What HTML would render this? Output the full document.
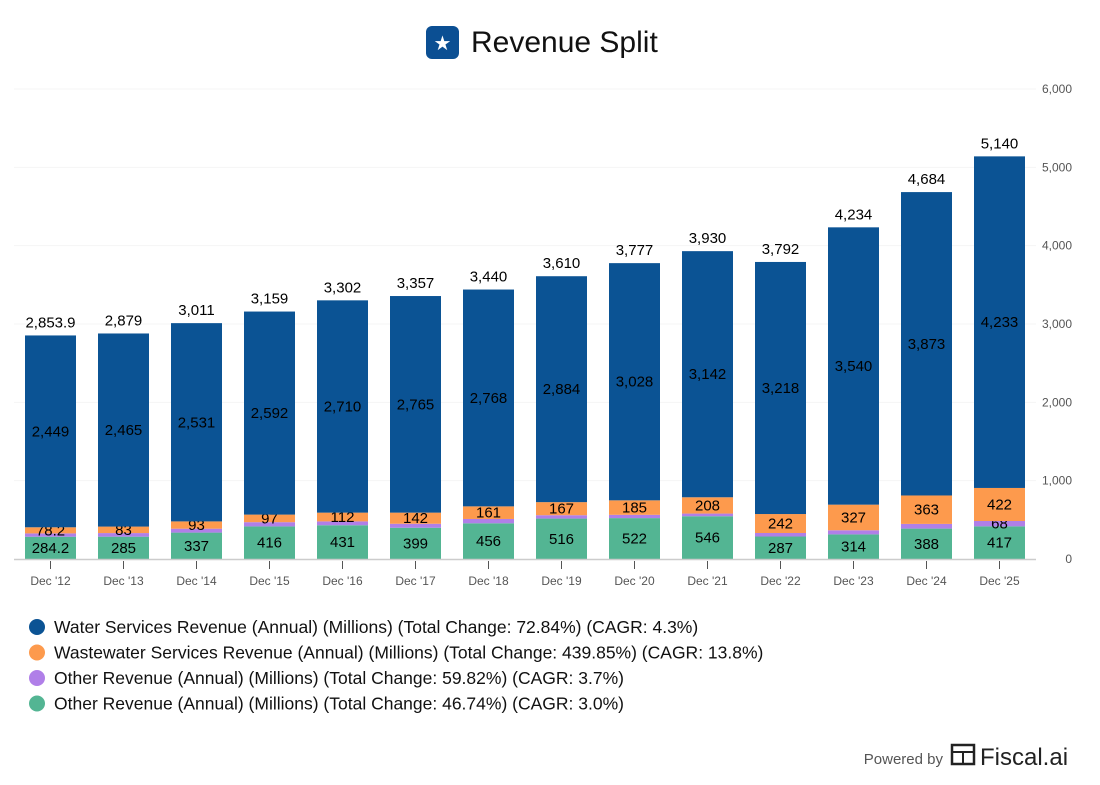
<!DOCTYPE html>
<html><head><meta charset="utf-8"><style>
body{margin:0;background:#fff;font-family:"Liberation Sans",Arial,sans-serif;}
#wrap{position:relative;width:1100px;height:780px;}
</style></head><body>
<div id="wrap">
<svg id="chart" width="1100" height="780" xmlns="http://www.w3.org/2000/svg">
  <g>
    <rect x="426" y="26" width="33" height="33" rx="6" fill="#0b4f93"/>
    <text x="442.5" y="50" font-size="20" fill="#fff" text-anchor="middle">★</text>
    <text x="471" y="52" font-size="30" fill="#111">Revenue Split</text>
  </g>
  <g id="grid"></g>
  <g id="bars"></g>
  <g id="axis"></g>
  <g id="legend"></g>
  <g>
    <text x="943" y="764" font-size="15" fill="#555" text-anchor="end">Powered by</text>
    <rect x="952" y="745" width="22" height="19" fill="none" stroke="#222" stroke-width="2.5"/>
    <line x1="952" y1="752" x2="974" y2="752" stroke="#222" stroke-width="2"/>
    <line x1="963" y1="752" x2="963" y2="764" stroke="#222" stroke-width="2"/>
    <text x="980" y="765" font-size="24" fill="#222">Fiscal.ai</text>
  </g>
</svg>
</div>
<script>
const categories=["Dec '12","Dec '13","Dec '14","Dec '15","Dec '16","Dec '17","Dec '18","Dec '19","Dec '20","Dec '21","Dec '22","Dec '23","Dec '24","Dec '25"];
const otherB=[284.2,285,337,416,431,399,456,516,522,546,287,314,388,417];
const otherA=[42.5,46,50,54,49,51,55,43,42,34,45,53,60,68];
const wastewater=[78.2,83,93,97,112,142,161,167,185,208,242,327,363,422];
const water=[2449,2465,2531,2592,2710,2765,2768,2884,3028,3142,3218,3540,3873,4233];
const totals=["2,853.9","2,879","3,011","3,159","3,302","3,357","3,440","3,610","3,777","3,930","3,792","4,234","4,684","5,140"];
const otherBLabels=["284.2","285","337","416","431","399","456","516","522","546","287","314","388","417"];
const wastewaterLabels=["78.2","83","93","97","112","142","161","167","185","208","242","327","363","422"];
const waterLabels=["2,449","2,465","2,531","2,592","2,710","2,765","2,768","2,884","3,028","3,142","3,218","3,540","3,873","4,233"];
const otherALabels=["","","","","","","","","","","","","","68"];
const yTicks=[0,1000,2000,3000,4000,5000,6000];
const yTickLabels=["0","1,000","2,000","3,000","4,000","5,000","6,000"];
const legendLabels=["Water Services Revenue (Annual) (Millions) (Total Change: 72.84%) (CAGR: 4.3%)","Wastewater Services Revenue (Annual) (Millions) (Total Change: 439.85%) (CAGR: 13.8%)","Other Revenue (Annual) (Millions) (Total Change: 59.82%) (CAGR: 3.7%)","Other Revenue (Annual) (Millions) (Total Change: 46.74%) (CAGR: 3.0%)"];

const NS="http://www.w3.org/2000/svg";
const X0=14,X1=1036,Y0=559,YTOP=89,MAX=6000;
const step=(X1-X0)/categories.length, bw=51;
const y=v=>Y0-(v/MAX)*(Y0-YTOP);
const xc=i=>X0+step*(i+0.5);
function mk(tag,attrs,parent,txt){const e=document.createElementNS(NS,tag);for(const k in attrs)e.setAttribute(k,attrs[k]);if(txt!==undefined)e.textContent=txt;parent.appendChild(e);return e;}
const grid=document.getElementById('grid'),bars=document.getElementById('bars'),axis=document.getElementById('axis'),legend=document.getElementById('legend');
yTicks.forEach((t,i)=>{
  if(t>0){const l=mk('line',{x1:X0,x2:X1,y1:y(t),y2:y(t),stroke:'#f5f5f5','stroke-width':1},grid);
  
  }
  const tx=mk('text',{x:1072,y:y(t)+4,'font-size':12,fill:'#555','text-anchor':'end'},axis,yTickLabels[i]);
  
  
});
const al=mk('line',{x1:X0,x2:X1,y1:Y0+0.5,y2:Y0+0.5,stroke:'#ccc','stroke-width':1.5},axis);


const series=[{d:otherB,c:'#53b593',l:otherBLabels,n:'other-revenue-b'},{d:otherA,c:'#b07fe8',l:otherALabels,n:'other-revenue-a'},{d:wastewater,c:'#fd9a4d',l:wastewaterLabels,n:'wastewater'},{d:water,c:'#0b5394',l:waterLabels,n:'water'}];
categories.forEach((c,i)=>{
  let base=0;
  series.forEach(s=>{
    const v=s.d[i],top=base+v;
    const r=mk('rect',{x:xc(i)-bw/2,y:y(top),width:bw,height:y(base)-y(top),fill:s.c},bars);
    
    
    if(s.l[i]){const t=mk('text',{x:xc(i),y:(y(top)+y(base))/2+5,'font-size':15,fill:'#000','text-anchor':'middle'},bars,s.l[i]);
    
    }
    base=top;
  });
  const tt=mk('text',{x:xc(i),y:y(base)-8,'font-size':15,fill:'#000','text-anchor':'middle'},bars,totals[i]);
  
  
  const tk=mk('line',{x1:xc(i),x2:xc(i),y1:Y0+2,y2:Y0+10,stroke:'#555','stroke-width':1},axis);
  
  
  const xl=mk('text',{x:xc(i),y:Y0+26,'font-size':12,fill:'#555','text-anchor':'middle'},axis,c);
  
  
});
const lc=['#0b5394','#fd9a4d','#b07fe8','#53b593'];
legendLabels.forEach((t,i)=>{
  const g=mk('g',{},legend);
  
  
  mk('circle',{cx:37,cy:627+i*25.5,r:8,fill:lc[i]},g);
  mk('text',{x:54,y:633+i*25.5,'font-size':17.5,fill:'#111'},g,t);
});
</script>
</body></html>
